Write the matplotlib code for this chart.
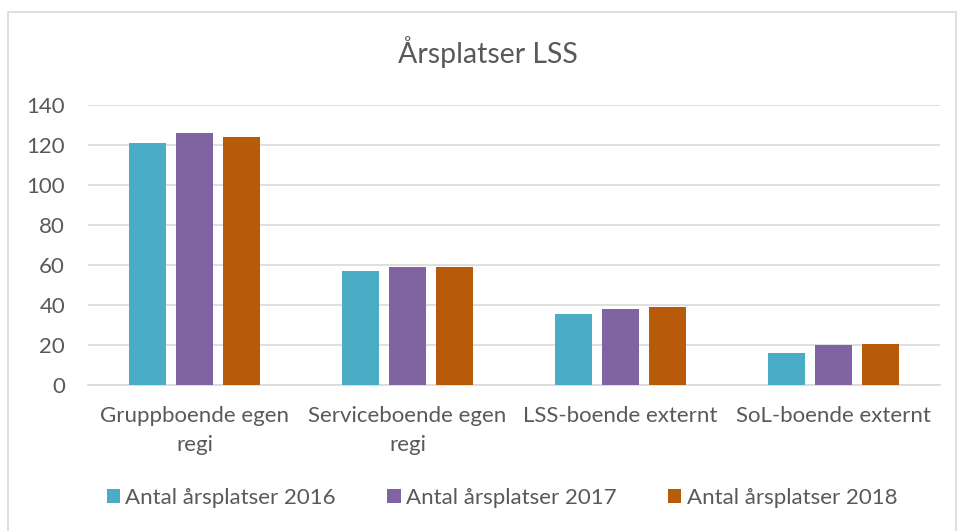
import numpy as np
import matplotlib.pyplot as plt
from matplotlib.patches import Rectangle

categories = ['Gruppboende egen\nregi', 'Serviceboende egen\nregi', 'LSS-boende externt', 'SoL-boende externt']
series_names = ['Antal årsplatser 2016', 'Antal årsplatser 2017', 'Antal årsplatser 2018']
v2016 = [121, 57, 35.3, 16.2]
v2017 = [126, 59, 37.8, 20]
v2018 = [124, 58.8, 39, 20.3]
colors = ['#4BACC6', '#8064A2', '#B75A09']

plt.rcParams['font.family'] = ['Lato', 'DejaVu Sans']
txt = '#595959'

fig = plt.figure(figsize=(9.58, 5.31), dpi=100)
ax = fig.add_axes([0.0919, 0.275, 0.889, 0.527])

# ram runt diagrammet
fig.patches.append(Rectangle((8 / 958, -0.01), 948 / 958, 1 - 12 / 531 + 0.01,
                             transform=fig.transFigure, fill=False,
                             edgecolor='#D9D9D9', linewidth=1.2))

x = np.arange(len(categories))
step = 0.22
width = 0.174
for i, (vals, name) in enumerate(zip([v2016, v2017, v2018], series_names)):
    ax.bar(x + (i - 1) * step, vals, width, color=colors[i], label=name, zorder=3)

ax.set_xlim(-0.5, len(categories) - 0.5)
ax.set_ylim(0, 140)
ax.set_yticks(range(0, 141, 20))
ax.yaxis.grid(True, color='#D9D9D9', linewidth=1.2, zorder=0)
for s in ['top', 'right', 'left']:
    ax.spines[s].set_visible(False)
ax.spines['bottom'].set_color('#D9D9D9')
ax.spines['bottom'].set_linewidth(1.2)
ax.tick_params(axis='both', length=0, colors=txt, labelsize=16)
ax.tick_params(axis='y', pad=16.5)
ax.tick_params(axis='x', pad=15)
ax.set_xticks(x)
ax.set_xticklabels(categories, linespacing=1.6)
for lab in ax.get_yticklabels():
    lab.set_horizontalalignment('right')

fig.text(0.509, 0.902, 'Årsplatser LSS', ha='center', va='center', fontsize=20.5, color=txt)

fig.legend(loc='center', bbox_to_anchor=(0.524, 0.062), ncol=3, frameon=False,
           fontsize=16, labelcolor=txt, handlelength=0.6, handleheight=0.6,
           handletextpad=0.25, columnspacing=2.3)

fig.savefig('out.png', dpi=100)
